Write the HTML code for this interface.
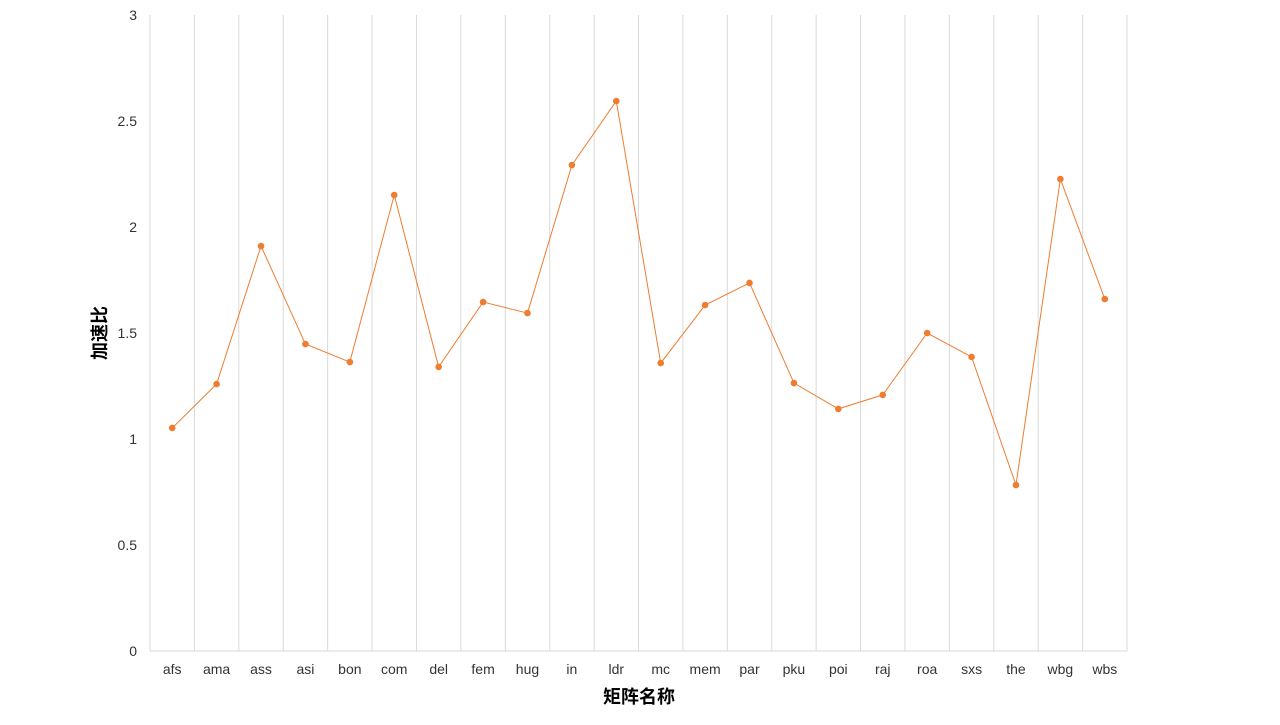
<!DOCTYPE html>
<html><head><meta charset="utf-8"><style>
body{margin:0;background:#fff;}
svg text{font-family:"Liberation Sans","Noto Sans CJK SC",sans-serif;}
</style></head><body>
<svg width="1280" height="720" id="chart">
</svg>
<script>
const categories=["afs","ama","ass","asi","bon","com","del","fem","hug","in","ldr","mc","mem","par","pku","poi","raj","roa","sxs","the","wbg","wbs"];
const speedup=[1.052,1.259,1.910,1.448,1.363,2.151,1.340,1.646,1.594,2.292,2.594,1.358,1.632,1.736,1.264,1.142,1.208,1.500,1.387,0.783,2.226,1.660];
const yTicks=[0,0.5,1,1.5,2,2.5,3];
const ns="http://www.w3.org/2000/svg";
const svg=document.getElementById('chart');
const L=150,R=1127,T=15,B=651,yMax=3;
const bw=(R-L)/categories.length;
const xS=i=>L+bw*(i+0.5);
const yS=v=>B-(v/yMax)*(B-T);
function mk(t,a,p){const e=document.createElementNS(ns,t);for(const k in a)e.setAttribute(k,a[k]);(p||svg).appendChild(e);return e;}
for(let i=0;i<=categories.length;i++){
 const g=mk('line',{x1:L+bw*i,x2:L+bw*i,y1:T,y2:B,stroke:'#d9d9d9','stroke-width':1});
 
 
}
const ax=mk('line',{x1:L,x2:R,y1:B,y2:B,stroke:'#d9d9d9','stroke-width':1});


yTicks.forEach(v=>{
 const t=mk('text',{x:137,y:yS(v)+5,'text-anchor':'end','font-size':14,fill:'#333'});
 t.textContent=v;
 
 
});
categories.forEach((c,i)=>{
 const t=mk('text',{x:xS(i),y:674,'text-anchor':'middle','font-size':14,fill:'#333'});
 t.textContent=c;
 
 
});
const line=mk('polyline',{points:speedup.map((v,i)=>xS(i)+','+yS(v)).join(' '),fill:'none',stroke:'#ed7d31','stroke-width':1});


speedup.forEach((v,i)=>{
 const c=mk('circle',{cx:xS(i),cy:yS(v),r:3.3,fill:'#ed7d31'});
 
 
});
const xt=mk('text',{x:639,y:703,'text-anchor':'middle','font-size':18,'font-weight':'bold',fill:'#000'});
xt.textContent='矩阵名称';


const yt=mk('text',{x:0,y:0,'text-anchor':'middle','font-size':18,'font-weight':'bold',fill:'#000',transform:'translate(106,333) rotate(-90)'});
yt.textContent='加速比';


</script>
</body></html>
